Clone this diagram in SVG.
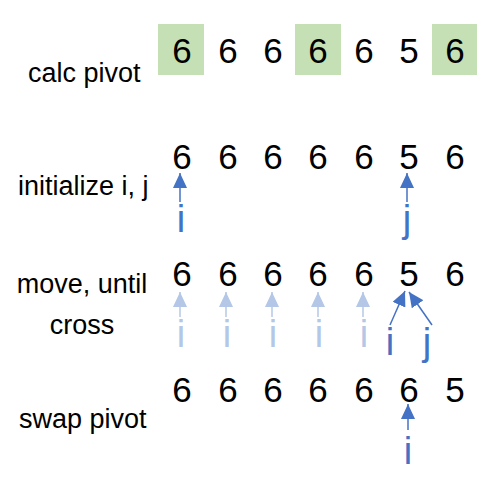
<svg xmlns="http://www.w3.org/2000/svg" width="487" height="477" viewBox="0 0 487 477">
<style>
.lbl{font-family:"Liberation Sans",Arial,sans-serif;font-size:27px;fill:#000}
.num{font-family:"Liberation Sans",Arial,sans-serif;font-size:35px;fill:#000;text-anchor:middle}
.ptr{font-family:"Liberation Sans",Arial,sans-serif;font-size:38px;text-anchor:middle}
.dk{fill:#4472C4}
.lt{fill:#B4C7E7}
.a-dk{stroke:#4472C4;stroke-width:1.5;fill:none}
.a-lt{stroke:#B4C7E7;stroke-width:1.5;fill:none}
.hl{fill:#C5E0B4}
</style>
<defs>
<marker id="hd" markerUnits="userSpaceOnUse" markerWidth="15" markerHeight="14" refX="15" refY="7" orient="auto"><path d="M0,0 L15,7 L0,14 z" fill="#4472C4"/></marker>
<marker id="hl" markerUnits="userSpaceOnUse" markerWidth="15" markerHeight="14" refX="15" refY="7" orient="auto"><path d="M0,0 L15,7 L0,14 z" fill="#B4C7E7"/></marker>
</defs>

<g id="row1">
<rect class="hl" x="158" y="24" width="46" height="51"/>
<rect class="hl" x="295" y="24" width="46" height="51"/>
<rect class="hl" x="432" y="24" width="45" height="51"/>
<text class="lbl" x="28" y="82">calc pivot</text>
<text class="num" x="182" y="63">6</text>
<text class="num" x="228" y="63">6</text>
<text class="num" x="273" y="63">6</text>
<text class="num" x="318" y="63">6</text>
<text class="num" x="364" y="63">6</text>
<text class="num" x="409" y="63">5</text>
<text class="num" x="455" y="63">6</text>
</g>

<g id="row2">
<text class="lbl" x="18" y="195">initialize i, j</text>
<text class="num" x="182" y="169">6</text>
<text class="num" x="228" y="169">6</text>
<text class="num" x="273" y="169">6</text>
<text class="num" x="318" y="169">6</text>
<text class="num" x="364" y="169">6</text>
<text class="num" x="409" y="169">5</text>
<text class="num" x="455" y="169">6</text>
<text class="ptr dk" x="181" y="232">i</text>
<text class="ptr dk" x="407" y="232">j</text>
</g>

<g id="row3">
<text class="lbl" x="82" y="293" text-anchor="middle">move, until</text>
<text class="lbl" x="82" y="334" text-anchor="middle">cross</text>
<text class="num" x="182" y="286">6</text>
<text class="num" x="228" y="286">6</text>
<text class="num" x="273" y="286">6</text>
<text class="num" x="318" y="286">6</text>
<text class="num" x="364" y="286">6</text>
<text class="num" x="409" y="286">5</text>
<text class="num" x="455" y="286">6</text>
<text class="ptr lt" x="181" y="347">i</text>
<text class="ptr lt" x="227" y="347">i</text>
<text class="ptr lt" x="273" y="347">i</text>
<text class="ptr lt" x="319" y="347">i</text>
<text class="ptr lt" x="364" y="347">i</text>
<text class="ptr dk" x="390" y="355">i</text>
<text class="ptr dk" x="427" y="355">j</text>
</g>

<g id="row4">
<text class="lbl" x="19" y="428">swap pivot</text>
<text class="num" x="182" y="402">6</text>
<text class="num" x="228" y="402">6</text>
<text class="num" x="273" y="402">6</text>
<text class="num" x="318" y="402">6</text>
<text class="num" x="364" y="402">6</text>
<text class="num" x="409" y="402">6</text>
<text class="num" x="455" y="402">5</text>
<text class="ptr dk" x="408" y="464">i</text>
</g>

<g id="connectors">
<line class="a-dk" x1="180" y1="202" x2="180" y2="173" marker-end="url(#hd)"/>
<line class="a-dk" x1="407" y1="202" x2="407" y2="173" marker-end="url(#hd)"/>
<line class="a-lt" x1="180" y1="317" x2="180" y2="292" marker-end="url(#hl)"/>
<line class="a-lt" x1="226" y1="317" x2="226" y2="292" marker-end="url(#hl)"/>
<line class="a-lt" x1="272" y1="317" x2="272" y2="292" marker-end="url(#hl)"/>
<line class="a-lt" x1="318" y1="317" x2="318" y2="292" marker-end="url(#hl)"/>
<line class="a-lt" x1="363" y1="317" x2="363" y2="292" marker-end="url(#hl)"/>
<line class="a-dk" x1="390" y1="325" x2="405" y2="291" marker-end="url(#hd)"/>
<line class="a-dk" x1="432" y1="325" x2="409" y2="292" marker-end="url(#hd)"/>
<line class="a-dk" x1="408" y1="430" x2="408" y2="404" marker-end="url(#hd)"/>
</g>
</svg>
